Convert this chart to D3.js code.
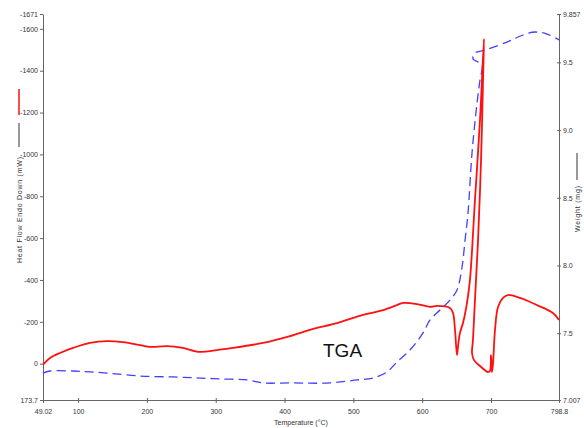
<!DOCTYPE html>
<html>
<head>
<meta charset="utf-8">
<script src="https://cdn.jsdelivr.net/npm/d3@7"></script>
<style>
  body { margin: 0; background: #fff; }
  svg { display: block; }
  .axis text { font-family: "Liberation Sans Narrow", "Liberation Sans", Arial, sans-serif; font-size: 7px; fill: #333; }
  .axis path, .axis line { stroke: #666; }
</style>
</head>
<body>
<div id="chart"></div>
<script>
// DSC heat flow trace (left axis), temperature in degC
const hfTemp = [49.0, 59.2, 73.7, 92.6, 117.3, 142.0, 165.3, 190.0, 204.5, 229.2, 252.4, 277.1, 301.9, 325.1,
  368.7, 408.0, 441.4, 476.3, 514.0, 543.1, 563.4, 572.1, 592.5, 611.4, 621.5, 640.4, 644.8, 647.7, 650.6,
  652.0, 654.9, 659.3, 665.1, 669.4, 676.7, 684.0, 689.8, 688.4, 685.5, 681.2, 676.7, 673.8, 672.4, 675.3,
  684.0, 695.6, 698.5, 700.0, 701.4, 702.9, 705.8, 710.2, 717.4, 724.7, 742.1, 766.8, 790.0, 798.8];
const heatFlow = [5, -27, -51, -75, -99, -108, -103, -89, -80, -84, -75, -56, -65, -75,
  -99, -132, -166, -194, -233, -256, -280, -290, -285, -271, -276, -266, -242, -161, -41,
  -80, -147, -194, -290, -400, -782, -1164, -1552, -1355, -973, -591, -304, -113, -51, -17,
  11, 40, 35, -41, 40, 0, -161, -271, -314, -328, -314, -280, -242, -209];

// TGA weight trace (right axis)
const wtTemp = [49.0, 59.2, 92.6, 117.3, 142.0, 190.0, 237.9, 277.1, 310.6, 345.4, 368.7, 408.0, 466.0,
  505.3, 528.5, 548.9, 563.4, 582.3, 601.2, 611.4, 625.9, 640.4, 650.6, 657.9, 662.3, 666.6, 672.4,
  679.7, 684.0, 687.0, 681.2, 673.8, 676.7, 691.3, 723.3, 746.5, 764.0, 781.4, 798.8];
const weight = [7.206, 7.221, 7.221, 7.214, 7.206, 7.184, 7.177, 7.169, 7.162, 7.155, 7.133, 7.133, 7.133,
  7.155, 7.169, 7.214, 7.288, 7.376, 7.502, 7.598, 7.671, 7.745, 7.819, 7.989, 8.188, 8.388, 8.831,
  9.200, 9.370, 9.473, 9.503, 9.525, 9.569, 9.591, 9.650, 9.702, 9.724, 9.709, 9.665];

const xTicks = [49.02, 100, 200, 300, 400, 500, 600, 700, 798.8];
const hfTicks = [173.7, 0, -200, -400, -600, -800, -1000, -1200, -1400, -1600, -1671];
const wtTicks = [7.007, 7.5, 8.0, 8.5, 9.0, 9.5, 9.857];
const wtLabels = ["7.007", "7.5", "8.0", "8.5", "9.0", "9.5", "9.857"];

const width = 584, height = 428;
const plotLeft = 43, plotRight = 559, plotTop = 14, plotBottom = 400;

let svg = d3.select("#chart").append("svg")
    .attr("width", width)
    .attr("height", height);

let x = d3.scaleLinear().domain([49.02, 798.8]).range([plotLeft, plotRight]);
let yHF = d3.scaleLinear().domain([173.7, -1671]).range([plotBottom, plotTop]);
let yW = d3.scaleLinear().domain([7.007, 9.857]).range([plotBottom, plotTop]);

// axes
svg.append("g")
    .attr("class", "axis")
    .attr("transform", "translate(0," + plotBottom + ")")
    .call(d3.axisBottom(x).tickValues(xTicks).tickSize(3).tickSizeOuter(0).tickPadding(6)
        .tickFormat(d => String(d)))
    .call(g => g.selectAll(".tick line").attr("y1", -2));

svg.append("g")
    .attr("class", "axis")
    .attr("transform", "translate(" + plotLeft + ",0)")
    .call(d3.axisLeft(yHF).tickValues(hfTicks).tickSize(3).tickSizeOuter(0).tickPadding(2)
        .tickFormat(d => String(d)));

svg.append("g")
    .attr("class", "axis")
    .attr("transform", "translate(" + plotRight + ",0)")
    .call(d3.axisRight(yW).tickValues(wtTicks).tickSize(2).tickSizeOuter(0).tickPadding(2)
        .tickFormat((d, i) => wtLabels[i]))
    .call(g => g.selectAll(".tick line").attr("x1", -2));

// curves
let weightLine = d3.line()
    .x((d, i) => x(wtTemp[i]))
    .y(d => yW(d))
    .curve(d3.curveCatmullRom.alpha(0.5));

svg.append("path")
    .datum(weight)
    .attr("d", weightLine)
    .attr("fill", "none")
    .attr("stroke", "#4040ff")
    .attr("stroke-width", 1.3)
    .attr("stroke-dasharray", "9,5");

let hfLine = d3.line()
    .x((d, i) => x(hfTemp[i]))
    .y(d => yHF(d))
    .curve(d3.curveCatmullRom.alpha(0.5));

svg.append("path")
    .datum(heatFlow)
    .attr("d", hfLine)
    .attr("fill", "none")
    .attr("stroke", "#ff1010")
    .attr("stroke-width", 1.8);

// axis titles
const smallFont = "'Liberation Sans Narrow', 'Liberation Sans', Arial, sans-serif";

svg.append("text")
    .attr("x", (plotLeft + plotRight) / 2)
    .attr("y", 425)
    .attr("text-anchor", "middle")
    .style("font-family", smallFont)
    .style("font-size", "7px")
    .attr("fill", "#333")
    .text("Temperature (°C)");

svg.append("text")
    .attr("transform", "translate(22,263) rotate(-90)")
    .attr("text-anchor", "start")
    .style("font-family", smallFont)
    .style("font-size", "7px")
    .attr("fill", "#333")
    .attr("textLength", 106)
    .attr("lengthAdjust", "spacing")
    .text("Heat Flow Endo Down (mW)");

svg.append("line")
    .attr("x1", 19).attr("x2", 19).attr("y1", 147).attr("y2", 123)
    .attr("stroke", "#333").attr("stroke-width", 1);
svg.append("line")
    .attr("x1", 19).attr("x2", 19).attr("y1", 115).attr("y2", 89)
    .attr("stroke", "#ff1010").attr("stroke-width", 1.5);

svg.append("text")
    .attr("transform", "translate(580,232) rotate(-90)")
    .attr("text-anchor", "start")
    .style("font-family", smallFont)
    .style("font-size", "7px")
    .attr("fill", "#333")
    .attr("textLength", 46)
    .attr("lengthAdjust", "spacing")
    .text("Weight (mg)");

svg.append("line")
    .attr("x1", 577).attr("x2", 577).attr("y1", 180).attr("y2", 153)
    .attr("stroke", "#333").attr("stroke-width", 1);

svg.append("text")
    .attr("x", 323)
    .attr("y", 357)
    .style("font-family", "'Liberation Sans', Arial, sans-serif")
    .style("font-size", "19px")
    .attr("fill", "#111")
    .text("TGA");
</script>
</body>
</html>
